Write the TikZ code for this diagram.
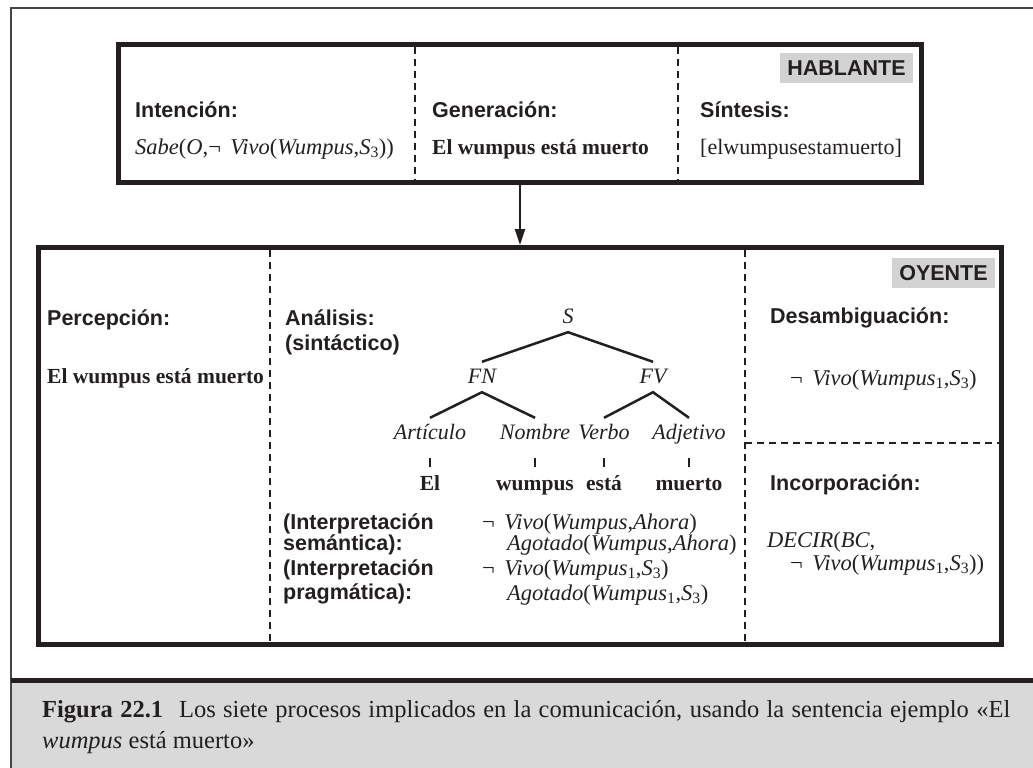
\documentclass[tikz,border=0pt]{standalone}
\usepackage{fontspec}
\setmainfont{Liberation Serif}
\setsansfont{Liberation Sans}
\usepackage{tikz}
\usetikzlibrary{arrows.meta, positioning}
\definecolor{myink}{RGB}{35,31,32}
\definecolor{myframe}{RGB}{70,70,70}
\definecolor{mytag}{RGB}{210,210,210}
\definecolor{mycap}{RGB}{217,217,217}
\tikzset{
  panel/.style={rectangle, draw=myink, line width=5pt, inner sep=0pt},
  divider/.style={draw=myink, line width=2.5pt, dash pattern=on 7pt off 5pt},
  role/.style={rectangle, fill=mytag, inner sep=0pt, minimum height=30pt,
    text=myink, font=\sffamily\bfseries\fontsize{21.5}{24}\selectfont},
  heading/.style={anchor=base west, inner sep=0pt, text=myink,
    font=\sffamily\bfseries\fontsize{21.5}{24}\selectfont},
  plain/.style={anchor=base west, inner sep=0pt, text=myink,
    font=\fontsize{22.5}{26}\selectfont},
  sentence/.style={plain, font=\bfseries\fontsize{21.5}{26}\selectfont},
  cat/.style={anchor=base, inner xsep=0pt, inner ysep=4pt, text height=17pt,
    text depth=5pt, text=myink, font=\itshape\fontsize{22}{26}\selectfont},
  word/.style={cat, font=\bfseries\fontsize{21.5}{26}\selectfont},
  branch/.style={draw=myink, line width=2.5pt},
  tick/.style={branch, shorten <=10pt, shorten >=2pt},
  arrow/.style={-{Triangle[length=16pt,width=10pt]}, line width=2pt, color=myink}
}
\begin{document}
\begin{tikzpicture}[x=1pt, y=-1pt]
  \useasboundingbox (0,0) rectangle (1033,768);
  % Frame and caption band
  \fill[mycap] (11,683) rectangle (1033,768);
  \draw[myframe, line width=1.5pt] (1033,8) -- (11,8) -- (11,768);
  \draw[myink, line width=5pt] (11,680) -- (1033,680);

  % Speaker
  \node (speaker) at (520,113.5) [panel, minimum width=803pt, minimum height=138pt] {};
  \draw[divider] (415,47) -- (415,180);
  \draw[divider] (678,47) -- (678,180);
  \node (hablante) at (846.5,68) [role, minimum width=133pt] {HABLANTE};
  \node (intent) at (135,117) [heading] {Intención:};
  \node (intentf) at (135,154) [plain] {\textit{Sabe}(\textit{O},¬\, \textit{Vivo}(\textit{Wumpus},\textit{S}\textsubscript{3}))};
  \node (gen) at (432,117) [heading] {Generación:};
  \node (genf) at (432,154) [sentence] {El wumpus está muerto};
  \node (synth) at (700,117) [heading] {Síntesis:};
  \node (synthf) at (700,154) [plain, font=\fontsize{22}{26}\selectfont] {[elwumpusestamuerto]};

  % Hearer
  \node (listener) at (520,446) [panel, minimum width=963pt, minimum height=397pt] {};
  \draw[arrow] (speaker.south) -- (listener.north);
  \draw[divider] (270,250) -- (270,642);
  \draw[divider] (745,250) -- (745,642);
  \draw[divider] (745,443) -- (1000,443);
  \node (oyente) at (943.5,273) [role, minimum width=103pt] {OYENTE};
  \node (percep) at (47,325) [heading] {Percepción:};
  \node (percepf) at (47,383) [sentence] {El wumpus está muerto};
  \node (parse) at (285,325) [heading] {Análisis:};
  \node (parse2) at (285,350) [heading] {(sintáctico)};

  % Parse tree
  \node (s) at (568,323) [cat] {S};
  \node (fn) at (482,383) [cat] {FN};
  \node (fv) at (653,383) [cat] {FV};
  \node (art) at (430,439) [cat] {Artículo};
  \node (nom) at (535,439) [cat] {Nombre};
  \node (verb) at (604,439) [cat] {Verbo};
  \node (adj) at (689,439) [cat] {Adjetivo};
  \node (el) at (430,490) [word] {El};
  \node (wumpus) at (535,490) [word] {wumpus};
  \node (esta) at (604,490) [word] {está};
  \node (muerto) at (689,490) [word] {muerto};
  \draw[branch] (fn.north) -- (s.south) -- (fv.north);
  \draw[branch] (art.north) -- (fn.south) -- (nom.north);
  \draw[branch] (verb.north) -- (fv.south) -- (adj.north);
  \draw[tick] (art.south) -- (el.north);
  \draw[tick] (nom.south) -- (wumpus.north);
  \draw[tick] (verb.south) -- (esta.north);
  \draw[tick] (adj.south) -- (muerto.north);

  % Interpretation
  \node (sem) at (283,529) [heading] {(Interpretación};
  \node (sem2) at (283,550) [heading] {semántica):};
  \node (semf) at (482,529) [plain] {¬\, \textit{Vivo}(\textit{Wumpus},\textit{Ahora})};
  \node (semf2) at (507,550) [plain] {\textit{Agotado}(\textit{Wumpus},\textit{Ahora})};
  \node (prag) at (283,575) [heading] {(Interpretación};
  \node (prag2) at (283,599) [heading] {pragmática):};
  \node (pragf) at (482,575) [plain] {¬\, \textit{Vivo}(\textit{Wumpus}\textsubscript{1},\textit{S}\textsubscript{3})};
  \node (pragf2) at (507,600) [plain] {\textit{Agotado}(\textit{Wumpus}\textsubscript{1},\textit{S}\textsubscript{3})};

  % Disambiguation and incorporation
  \node (disamb) at (770,323) [heading] {Desambiguación:};
  \node (disambf) at (790,385) [plain] {¬\, \textit{Vivo}(\textit{Wumpus}\textsubscript{1},\textit{S}\textsubscript{3})};
  \node (incorp) at (770,490) [heading] {Incorporación:};
  \node (incorpf) at (767,547) [plain] {\textit{DECIR}(\textit{BC},};
  \node (incorpf2) at (790,570) [plain] {¬\, \textit{Vivo}(\textit{Wumpus}\textsubscript{1},\textit{S}\textsubscript{3}))};

  % Caption
  \node (caption) at (42,717) [anchor=base west, inner sep=0pt, text width=968pt, align=justify,
    text=myink, font=\fontsize{24.5}{31}\selectfont]
    {\textbf{Figura 22.1}\hspace{16pt}Los siete procesos implicados en la comunicación, usando la sentencia ejemplo «El\linebreak
     \textit{wumpus} está muerto»};
\end{tikzpicture}
\end{document}
